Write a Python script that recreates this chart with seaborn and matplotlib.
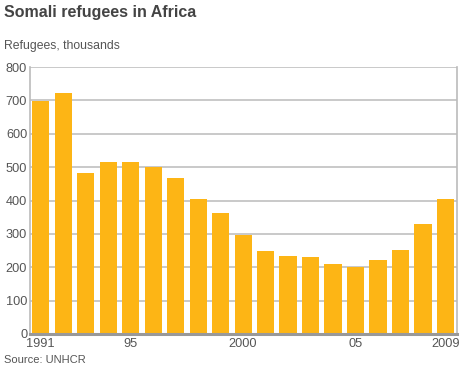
import matplotlib
matplotlib.use("Agg")
import matplotlib.pyplot as plt
import seaborn as sns
import pandas as pd

years = [str(y) for y in range(1991, 2010)]
refugees = [699, 723, 481, 514, 514, 501, 466, 403, 364, 298, 250, 235, 232, 211, 202, 223, 253, 331, 403]
tick_labels = ["1991", "", "", "", "95", "", "", "", "", "2000", "", "", "", "", "05", "", "", "", "2009"]
y_ticks = [0, 100, 200, 300, 400, 500, 600, 700, 800]

sns.set_style("white")
plt.rcParams['font.family'] = ['Liberation Sans', 'DejaVu Sans']

df = pd.DataFrame({"year": years, "refugees": refugees})

fig = plt.figure(figsize=(4.64, 3.70), dpi=100)
ax = fig.add_axes([30/464, 1-334/370, (457-30)/464, (334-67)/370])

sns.barplot(data=df, x="year", y="refugees", color="#FDB515", saturation=1,
            width=0.76, ax=ax)
for p in ax.patches:
    p.set_zorder(3)
    p.set_linewidth(0)

ax.set_ylim(0, 800)
ax.set_xlim(-0.47, 18.51)
ax.set_yticks(y_ticks)
ax.set_yticklabels([str(v) for v in y_ticks], color="#555555", fontsize=9.2)
ax.set_xticks(range(len(years)))
ax.set_xticklabels(tick_labels, color="#555555", fontsize=9.2)
ax.tick_params(axis='both', length=0, pad=2)
ax.tick_params(axis='x', pad=3)
ax.set_xlabel("")
ax.set_ylabel("")
ax.set_axisbelow(True)
ax.yaxis.grid(True, color="#BBBBBB", linewidth=1.1)
for s in ["left", "right"]:
    ax.spines[s].set_color("#BBBBBB")
    ax.spines[s].set_linewidth(1.2)
ax.spines["top"].set_visible(False)
ax.spines["bottom"].set_color("#999999")
ax.spines["bottom"].set_linewidth(2.2)
ax.spines["bottom"].set_zorder(5)

fig.text(4/464, 1-5/370, "Somali refugees in Africa", fontsize=11.5, fontweight="bold",
         color="#444444", va="top", ha="left")
fig.text(4/464, 1-40/370, "Refugees, thousands", fontsize=8.8, color="#555555",
         va="top", ha="left")
fig.text(4/464, 1-355/370, "Source: UNHCR", fontsize=8.0, color="#555555",
         va="top", ha="left")

fig.savefig("out.png", dpi=100)
